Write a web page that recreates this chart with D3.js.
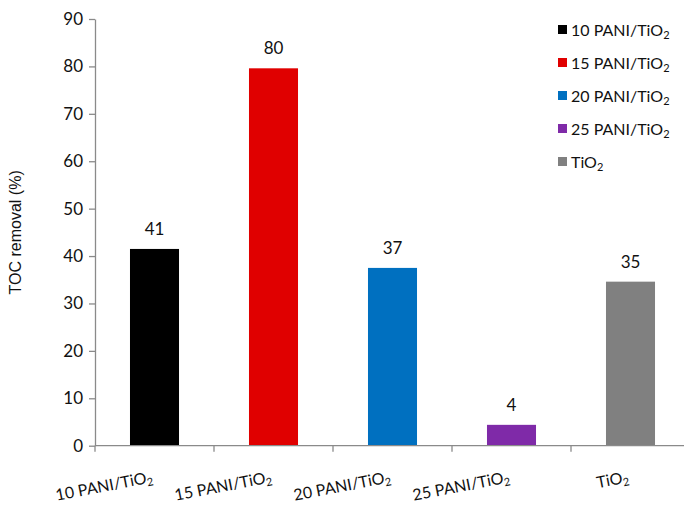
<!DOCTYPE html>
<html>
<head>
<meta charset="utf-8">
<script src="https://cdn.jsdelivr.net/npm/d3@7/dist/d3.min.js"></script>
<style>
  html, body { margin: 0; padding: 0; background: #fff; }
  svg { display: block; }
</style>
</head>
<body>
<svg id="chart" width="684" height="507"></svg>
<script>
// ---- data ----
const categories = ["10 PANI/TiO", "15 PANI/TiO", "20 PANI/TiO", "25 PANI/TiO", "TiO"];
const values = [41.5, 79.6, 37.5, 4.4, 34.6];
const valueLabels = ["41", "80", "37", "4", "35"];
const colors = ["#000000", "#e00000", "#0070c0", "#7f2aa8", "#808080"];
const yTicks = [0, 10, 20, 30, 40, 50, 60, 70, 80, 90];
const yTitle = "TOC removal (%)";

(function () {
const svg = d3.select("#chart");
const mLeft = 95, mRight = 690, mTop = 19, mBottom = 445.7;
const font = "Lato, 'Open Sans', sans-serif";
const axisColor = "#8a8a8a";
const txt = "#111";

const x = d3.scaleBand().domain(categories).range([mLeft, mRight])
  .paddingInner(0.588).paddingOuter(0.294);
const y = d3.scaleLinear().domain([0, 90]).range([mBottom, mTop]);

// bars
svg.append("g").selectAll("rect").data(categories).join("rect")
  .attr("x", d => x(d))
  .attr("width", x.bandwidth())
  .attr("y", (d, i) => y(values[i]))
  .attr("height", (d, i) => y(0) - y(values[i]))
  .attr("fill", (d, i) => colors[i]);

// value labels
svg.append("g").selectAll("text").data(categories).join("text")
  .attr("x", d => x(d) + x.bandwidth() / 2)
  .attr("y", (d, i) => y(values[i]) - 14)
  .attr("text-anchor", "middle")
  .attr("font-family", font).attr("font-size", 17).attr("fill", txt)
  .text((d, i) => valueLabels[i]);

// y axis
const yAxis = svg.append("g").attr("transform", `translate(${mLeft},0)`)
  .call(d3.axisLeft(y).tickValues(yTicks).tickSize(6).tickPadding(6).tickSizeOuter(0));
yAxis.select(".domain").attr("stroke", axisColor).attr("stroke-width", 1.3);
yAxis.selectAll(".tick line").attr("stroke", axisColor).attr("stroke-width", 1.3);
yAxis.selectAll(".tick text").attr("font-family", font).attr("font-size", 17).attr("fill", txt);

// x axis line and ticks at band boundaries
const bounds = categories.map(d => x(d) - x.step() * x.paddingInner() / 2).concat([mRight]);
svg.append("line").attr("x1", mLeft).attr("x2", mRight).attr("y1", mBottom).attr("y2", mBottom)
  .attr("stroke", axisColor).attr("stroke-width", 1.3);
svg.append("g").selectAll("line").data(bounds).join("line")
  .attr("x1", d => d).attr("x2", d => d)
  .attr("y1", mBottom).attr("y2", mBottom + 6)
  .attr("stroke", axisColor).attr("stroke-width", 1.3);

// x labels (rotated)
const xl = svg.append("g").selectAll("text").data(categories).join("text")
  .attr("transform", d => `translate(${x(d) + x.bandwidth() / 2 - 1},482) rotate(-11)`)
  .attr("text-anchor", "end")
  .attr("font-family", font).attr("font-size", 16).attr("fill", txt);
xl.append("tspan").text(d => d);
xl.append("tspan").attr("font-size", 11).attr("dy", 3).text("2");

// y title
svg.append("text")
  .attr("transform", `translate(21,${(mTop + mBottom) / 2}) rotate(-90)`)
  .attr("text-anchor", "middle")
  .attr("font-family", "'Liberation Sans', Arial, sans-serif").attr("font-size", 16).attr("fill", txt)
  .text(yTitle);

// legend
const lg = svg.append("g").selectAll("g").data(categories).join("g")
  .attr("transform", (d, i) => `translate(558,${30 + i * 33})`);
lg.append("rect").attr("x", 0).attr("y", -5).attr("width", 9).attr("height", 9)
  .attr("fill", (d, i) => colors[i]);
const lt = lg.append("text").attr("x", 13).attr("y", 5.5)
  .attr("font-family", font).attr("font-size", 16).attr("fill", txt);
lt.append("tspan").text(d => d);
lt.append("tspan").attr("font-size", 11).attr("dy", 3).text("2");
})();
</script>
</body>
</html>
